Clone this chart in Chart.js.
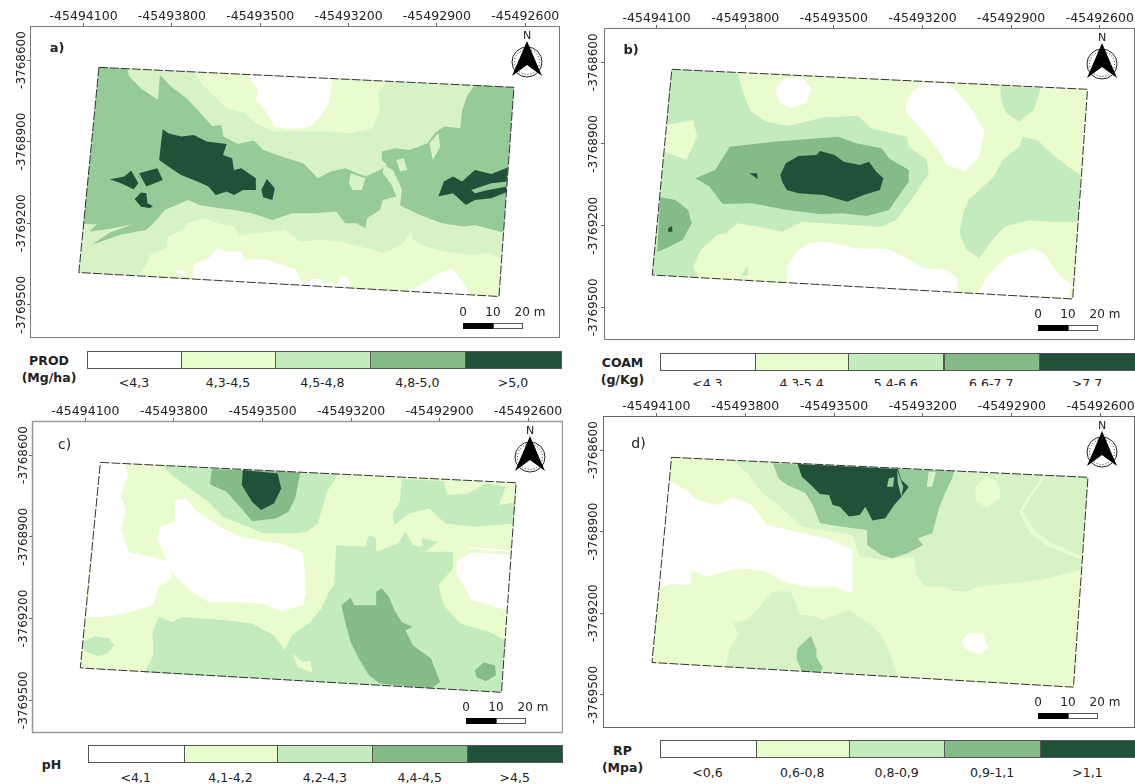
<!DOCTYPE html>
<html>
<head>
<meta charset="utf-8">
<title>Mapas PROD, COAM, pH, RP</title>
<script src="https://cdn.jsdelivr.net/npm/chart.js@4"></script>
<style>
  html, body { margin: 0; padding: 0; background: #fff; }
  #sheet { position: relative; width: 1135px; height: 784px; overflow: hidden; font-family: "DejaVu Sans", sans-serif; color: #222; }
  canvas { position: absolute; }
  .swatch { position: absolute; box-sizing: border-box; border: 1px solid #555; }
  .clabel { position: absolute; width: 100px; margin-left: -50px; text-align: center; font-size: 12.5px; line-height: 14px; }
  .ltitle { position: absolute; width: 80px; margin-left: -40px; text-align: center; font-size: 12.5px; font-weight: bold; line-height: 17px; }
  .clip { position: absolute; overflow: hidden; left: 0; right: 0; }
</style>
</head>
<body>
<div id="sheet"></div>
<script>
const xTicks = [-45494100, -45493800, -45493500, -45493200, -45492900, -45492600]
const yTicks = [-3768600, -3768900, -3769200, -3769500]

// legend classes
const prodClasses = ['<4,3', '4,3-4,5', '4,5-4,8', '4,8-5,0', '>5,0']
const coamClasses = ['<4,3', '4,3-5,4', '5,4-6,6', '6,6-7,7', '>7,7']
const phClasses = ['<4,1', '4,1-4,2', '4,2-4,3', '4,4-4,5', '>4,5']
const rpClasses = ['<0,6', '0,6-0,8', '0,8-0,9', '0,9-1,1', '>1,1']

// zones digitised from each sheet as [east, south] readings, georeferenced in toMap()
// a) PROD
const aParcel = [[270,202],[1407,262],[1366,890],[215,818]]
const aPale = [
  [[530,218],[555,255],[620,325],[665,335],[700,370],[750,395],[830,395],[900,395],[960,400],[1020,385],[1040,330],[1035,280],[1060,246]],
  [[380,825],[400,795],[410,765],[455,745],[460,710],[500,690],[510,670],[560,655],[610,675],[640,680],[655,705],[700,700],[780,690],[820,725],[880,720],[930,725],[985,740],[1050,760],[1100,735],[1125,695],[1130,720],[1165,740],[1215,755],[1280,765],[1340,760],[1372,775],[1366,890]]
]
const aWhite = [
  [[680,224],[705,270],[700,300],[735,345],[750,380],[790,388],[850,380],[875,350],[900,310],[910,236]],
  [[525,837],[530,795],[570,775],[595,745],[620,755],[660,755],[670,780],[725,778],[770,795],[810,810],[830,856],[850,840],[870,835],[900,850],[925,855],[930,825],[955,835],[960,865]],
  [[1115,875],[1150,855],[1200,820],[1240,807],[1265,845],[1290,888]],
  [[480,815],[500,810],[510,832]]
]
const aClass4 = [[
  [270,202],[348,207],[352,228],[385,265],[432,300],[437,225],[470,262],[510,295],[545,335],[580,378],[605,375],[612,410],[650,432],[695,422],[720,450],[770,470],[830,490],[870,535],[905,515],[945,505],[1000,530],[1040,510],[1060,495],[1045,480],[1045,455],[1080,445],[1120,450],[1170,430],[1190,400],[1215,380],[1260,385],[1265,330],[1280,285],[1300,256],[1407,262],
  [1378,698],[1300,675],[1270,680],[1210,670],[1150,645],[1100,620],[1040,630],[1005,655],[1000,685],[975,670],[945,670],[920,635],[860,640],[800,640],[745,660],[690,640],[640,630],[600,625],[545,615],[515,600],[450,630],[420,670],[400,690],[330,705],[250,735],[300,698],[365,672],[295,688],[243,695],[265,673],[228,672]
]]
const aTongues = [
  [[1050,495],[1075,510],[1095,555],[1100,570],[1095,615],[1120,640],[1075,640],[1040,632],[1048,600],[1085,590],[1072,555],[1048,520]],
  [[960,520],[1000,535],[990,570],[965,570],[955,550]],
  [[1085,480],[1105,475],[1115,510],[1095,515]],
  [[1175,430],[1200,400],[1205,440],[1185,480]]
]
const aDark = [
  [[445,388],[460,400],[495,410],[530,405],[565,425],[620,432],[610,465],[635,475],[640,510],[660,505],[700,535],[700,570],[665,570],[640,585],[620,575],[590,585],[570,560],[540,545],[495,525],[460,500],[435,480],[440,430]],
  [[300,538],[340,530],[358,512],[378,550],[365,568],[330,550]],
  [[380,520],[430,505],[445,540],[400,560]],
  [[715,570],[730,537],[752,565],[745,600],[720,592]],
  [[368,598],[385,578],[400,580],[403,610],[418,618],[410,625],[385,620]],
  [[1200,590],[1215,545],[1240,530],[1265,545],[1300,510],[1345,522],[1390,503],[1385,578],[1345,595],[1300,600],[1275,615],[1240,580]]
]
const aSlit = [[[1290,570],[1345,550],[1388,545],[1387,560],[1330,572],[1300,580]]]

// b) COAM
const bParcel = [[280,208],[1429,268],[1388,897],[226,825]]
const bClass3 = [
  [[280,208],[462,218],[475,270],[495,330],[540,365],[600,378],[650,365],[700,352],[795,348],[830,385],[870,395],[930,410],[935,440],[985,480],[990,520],[960,570],[935,610],[900,660],[860,680],[780,675],[700,670],[640,665],[585,695],[520,680],[460,670],[430,700],[405,705],[360,750],[340,800],[350,832],[226,825]],
  [[1188,258],[1300,264],[1280,330],[1240,365],[1205,340],[1190,300]],
  [[1250,410],[1290,420],[1340,470],[1375,500],[1410,525],[1403,665],[1330,665],[1270,660],[1200,680],[1165,720],[1130,775],[1095,750],[1075,700],[1085,640],[1100,600],[1170,530],[1195,480],[1240,440]],
  [[470,830],[490,795],[490,825]]
]
const bPaleHole = [[[266,375],[340,360],[350,410],[320,480],[258,455]]]
const bWhite = [
  [[565,270],[590,235],[640,232],[665,265],[650,310],[610,325],[580,310]],
  [[925,320],[940,280],[975,250],[1040,250],[1075,280],[1110,330],[1145,395],[1130,470],[1090,515],[1040,495],[1010,440],[960,375],[930,340]],
  [[597,848],[600,795],[630,750],[660,730],[710,725],[790,745],[880,748],[930,775],[975,805],[1040,810],[1070,835],[1070,877]],
  [[1125,881],[1150,830],[1200,775],[1275,745],[1310,760],[1350,825],[1385,855],[1378,893]]
]
const bClass4 = [
  [[345,535],[400,510],[440,440],[560,425],[740,410],[790,430],[860,445],[880,475],[935,510],[935,545],[905,590],[880,630],[820,648],[750,640],[690,642],[600,630],[500,610],[420,612],[385,560]],
  [[248,592],[290,600],[325,630],[335,670],[310,720],[265,745],[240,755]]
]
const bDark = [
  [[580,525],[595,490],[630,468],[680,465],[690,453],[730,465],[755,485],[800,495],[825,485],[845,515],[865,535],[855,570],[810,585],[765,605],[700,585],[630,580],[598,570],[585,545]],
  [[495,520],[515,520],[518,538]],
  [[270,685],[280,678],[282,695],[270,695]]
]

// c) pH
const cParcel = [[275,202],[1413,263],[1373,891],[220,818]]
const cWhite = [
  [[275,202],[345,207],[350,240],[332,300],[345,350],[332,400],[352,470],[470,500],[470,550],[435,575],[420,630],[340,655],[270,667],[238,665]],
  [[478,315],[510,310],[535,345],[570,370],[610,400],[660,425],[720,438],[770,445],[830,475],[838,590],[830,630],[770,648],[720,625],[620,620],[570,620],[520,585],[505,570],[470,530],[450,480],[430,430],[440,395],[480,380]],
  [[1250,500],[1290,472],[1398,478],[1388,645],[1330,625],[1290,615],[1270,570],[1250,540]],
  [[1270,455],[1400,465],[1398,470],[1300,462]]
]
const cClass3 = [
  [[445,211],[470,240],[520,280],[570,320],[610,365],[680,395],[720,415],[800,415],[840,410],[870,385],[885,330],[895,290],[925,237]],
  [[1100,252],[1215,258],[1225,300],[1280,295],[1330,265],[1385,275],[1365,330],[1410,322],[1405,385],[1300,395],[1220,385],[1175,340],[1120,355],[1080,390],[1075,355],[1095,320]],
  [[920,450],[1000,455],[1010,420],[1030,430],[1030,470],[1090,445],[1110,410],[1130,450],[1155,455],[1155,430],[1200,440],[1165,470],[1240,470],[1240,520],[1200,570],[1215,630],[1260,685],[1340,710],[1382,735],[1373,891],[395,832],[420,780],[418,710],[435,665],[470,680],[500,665],[620,675],[690,685],[750,720],[780,765],[800,720],[850,680],[880,640],[900,590],[915,570]],
  [[228,740],[260,722],[300,730],[312,750],[295,775],[265,782],[228,765]]
]
const cPaleHole = [[[800,775],[815,815],[855,832],[850,795],[830,800]]]
const cClass4 = [
  [[580,222],[822,232],[808,310],[790,350],[755,370],[690,378],[665,345],[620,290],[575,268]],
  [[935,630],[960,608],[970,630],[1030,630],[1030,590],[1045,580],[1065,605],[1080,645],[1100,680],[1130,695],[1110,705],[1130,750],[1180,790],[1205,860],[1180,880],[1040,865],[1010,840],[985,795],[960,740],[945,680]],
  [[1300,825],[1325,802],[1355,810],[1358,840],[1330,858],[1305,845]]
]
const cDark = [[[665,225],[760,235],[770,280],[750,325],[715,345],[690,320],[662,270]]]

// d) RP
const dParcel = [[280,202],[1430,262],[1390,892],[226,818]]
const dWhite = [
  [[274,272],[320,300],[350,330],[410,345],[450,322],[500,345],[545,405],[640,430],[710,445],[780,480],[780,605],[760,605],[735,590],[640,590],[590,575],[540,545],[470,535],[430,545],[380,560],[335,542],[330,585],[280,582],[248,592],[246,595]],
  [[1080,755],[1100,730],[1140,730],[1155,775],[1130,795],[1090,775]]
]
const dClass3 = [
  [[450,212],[490,250],[530,310],[570,340],[640,410],[690,420],[780,435],[800,500],[860,510],[950,500],[955,555],[980,590],[1030,590],[1060,603],[1100,603],[1125,590],[1300,570],[1410,540],[1413,510],[1320,470],[1270,430],[1240,365],[1255,335],[1305,256]],
  [[1315,256],[1430,262],[1415,500],[1330,460],[1280,420],[1250,365],[1265,335]],
  [[430,831],[440,775],[465,735],[450,700],[490,690],[520,655],[560,605],[610,605],[635,675],[660,675],[700,690],[770,660],[825,700],[860,735],[885,795],[905,861]]
]
const dPaleHole = [[[1120,290],[1150,258],[1180,275],[1190,320],[1150,355],[1120,330]]]
const dClass4 = [
  [[560,220],[1060,244],[1055,265],[1035,310],[1020,350],[1000,430],[960,445],[975,465],[930,490],[890,505],[860,495],[820,465],[820,420],[780,415],[720,405],[690,400],[670,345],[650,310],[600,285],[575,265]],
  [[628,775],[665,737],[680,780],[680,800],[698,835],[690,847],[640,845],[625,805]]
]
const dTongue = [[[990,245],[1010,246],[1000,290],[985,290]]]
const dDark = [[[628,222],[905,237],[915,270],[935,290],[915,320],[895,345],[870,385],[835,392],[815,350],[800,375],[770,380],[745,350],[725,345],[715,315],[690,312],[660,280],[640,260]]]
const dSlit = [
  [[903,240],[920,290],[915,320],[905,280]],
  [[880,265],[895,262],[892,290],[875,290]]
]

const WHITE = '#ffffff'
const PALE = '#e9fccd'
const LIGHT = '#c3ebbd'
const LIGHT_SOFT = '#d7f3c6'
const MID = '#84bb89'
const MID_SOFT = '#97ca99'
const DARK = '#215239'
const legendColors = [WHITE, PALE, LIGHT, MID, DARK]

const panels = [
  {
    tag: 'a)', tagFont: 'bold 13px "DejaVu Sans"', tagX: 57, tagY: 49,
    left: 0, top: 0, width: 560, height: 339, axisW: 30, axisH: 26, yPad: -24,
    east0: 228, eastStep: 242, south0: 180, frame: ['#777', 1],
    xMin: -45494282, xMax: -45492482, yMin: -3769622, yMax: -3768475,
    parcel: aParcel,
    layers: [[LIGHT_SOFT, [aParcel]], [PALE, aPale], [WHITE, aWhite], [MID_SOFT, aClass4], [LIGHT_SOFT, aTongues], [DARK, aDark], [MID_SOFT, aSlit]],
    classes: prodClasses, title: ['PROD', '(Mg/ha)'], titleX: 49, titleY: 352,
    bar: [87, 181, 275, 369.7, 465, 561], barY: 351, barH: 18, labelY: 382.5, clipY: 400
  },
  {
    tag: 'b)', tagFont: 'bold 13px "DejaVu Sans"', tagX: 631, tagY: 51,
    left: 570, top: 2, width: 565, height: 339, axisW: 34, axisH: 26, yPad: -22,
    east0: 238, eastStep: 245, south0: 187, frame: ['#777', 1],
    xMin: -45494278, xMax: -45492481, yMin: -3769620, yMax: -3768474,
    parcel: bParcel,
    layers: [[PALE, [bParcel]], [LIGHT, bClass3], [PALE, bPaleHole], [WHITE, bWhite], [MID, bClass4], [DARK, bDark]],
    classes: coamClasses, title: ['COAM', '(g/Kg)'], titleX: 622.5, titleY: 354,
    bar: [659.9, 754.8, 848.3, 943.5, 1039, 1135], barY: 352.7, barH: 18, labelY: 383.7, clipY: 386.5
  },
  {
    tag: 'c)', tagFont: '14px "DejaVu Sans"', tagX: 64.6, tagY: 445,
    left: 0, top: 395, width: 563, height: 339, axisW: 32, axisH: 26, yPad: -24,
    east0: 234, eastStep: 242.4, south0: 180, frame: ['#999', 1.5],
    xMin: -45494281, xMax: -45492482, yMin: -3769620, yMax: -3768475,
    parcel: cParcel,
    layers: [[PALE, [cParcel]], [WHITE, cWhite], [LIGHT, cClass3], [PALE, cPaleHole], [MID, cClass4], [DARK, cDark]],
    classes: phClasses, title: ['pH'], titleX: 51.5, titleY: 755.5,
    bar: [88, 183.6, 277.4, 372.3, 467.2, 562.4], barY: 745.3, barH: 18, labelY: 777.7, clipY: 784
  },
  {
    tag: 'd)', tagFont: '14px "DejaVu Sans"', tagX: 638.5, tagY: 444,
    left: 570, top: 390, width: 565, height: 339, axisW: 33, axisH: 26, yPad: -23,
    east0: 238, eastStep: 245.4, south0: 180, frame: ['#666', 1],
    xMin: -45494280, xMax: -45492484, yMin: -3769622, yMax: -3768475,
    parcel: dParcel,
    layers: [[PALE, [dParcel]], [WHITE, dWhite], [LIGHT_SOFT, dClass3], [PALE, dPaleHole], [MID_SOFT, dClass4], [LIGHT_SOFT, dTongue], [DARK, dDark], [MID_SOFT, dSlit]],
    classes: rpClasses, title: ['RP', '(Mpa)'], titleX: 622.5, titleY: 742,
    bar: [659.5, 755.5, 849, 944.3, 1040, 1135], barY: 740.3, barH: 18, labelY: 773, clipY: 784
  }
]

const sheet = document.getElementById('sheet')

function toMap (p, pair) {
  return {
    x: xTicks[0] + (pair[0] - p.east0) * 300 / p.eastStep,
    y: yTicks[0] - (pair[1] - p.south0) * 300 / 245
  }
}

// frame, panel tag, north arrow and scale bar
const mapFurniture = {
  id: 'mapFurniture',
  afterDraw (chart, args, opts) {
    const p = opts.panel
    const { ctx, chartArea: area } = chart
    ctx.save()
    ctx.strokeStyle = p.frame[0]
    ctx.lineWidth = p.frame[1]
    ctx.strokeRect(area.left + 0.5, area.top + 0.5, area.right - area.left - 1, area.bottom - area.top - 1)

    ctx.fillStyle = '#222'
    ctx.font = p.tagFont
    ctx.textAlign = 'center'
    ctx.textBaseline = 'middle'
    ctx.fillText(p.tag, p.tagX - p.left, p.tagY - p.top)

    // north arrow
    const cx = area.right - 33
    const cy = area.top + 36
    ctx.strokeStyle = '#222'
    ctx.lineWidth = 1
    ctx.beginPath()
    ctx.arc(cx, cy, 15, 0, Math.PI * 2)
    ctx.stroke()
    ctx.setLineDash([1, 2])
    ctx.beginPath()
    ctx.arc(cx, cy, 12.5, 0, Math.PI * 2)
    ctx.stroke()
    ctx.setLineDash([])
    ctx.fillStyle = '#000'
    ctx.beginPath()
    ctx.moveTo(cx, cy - 21)
    ctx.lineTo(cx + 15, cy + 14)
    ctx.lineTo(cx, cy + 3)
    ctx.lineTo(cx - 15, cy + 14)
    ctx.closePath()
    ctx.fill()
    ctx.font = '11px "DejaVu Sans"'
    ctx.fillStyle = '#222'
    ctx.fillText('N', cx, cy - 26)

    // scale bar
    const barLeft = area.right - 97
    const barTop = area.bottom - 15
    ctx.fillStyle = '#000'
    ctx.fillRect(barLeft, barTop, 30, 6)
    ctx.fillStyle = '#fff'
    ctx.fillRect(barLeft + 30, barTop, 30, 6)
    ctx.strokeStyle = '#555'
    ctx.strokeRect(barLeft + 30.5, barTop + 0.5, 29, 5)
    ctx.fillStyle = '#222'
    ctx.font = '12px "DejaVu Sans"'
    ctx.fillText('0', barLeft, barTop - 10)
    ctx.fillText('10', barLeft + 30, barTop - 10)
    ctx.fillText('20 m', barLeft + 67, barTop - 10)
    ctx.restore()
  }
}

function datasetsFor (p) {
  const sets = []
  p.layers.forEach(([color, polys]) => {
    polys.forEach(poly => {
      sets.push({
        data: poly.map(pair => toMap(p, pair)),
        showLine: true,
        fill: 'shape',
        backgroundColor: color,
        borderColor: 'transparent',
        borderWidth: 0,
        pointRadius: 0,
        tension: 0
      })
    })
  })
  // parcel outline goes on top
  sets.push({
    data: p.parcel.concat([p.parcel[0]]).map(pair => toMap(p, pair)),
    showLine: true,
    fill: false,
    borderColor: '#333',
    borderWidth: 1,
    borderDash: [9, 2],
    pointRadius: 0,
    tension: 0
  })
  // chart.js paints the first dataset last
  return sets.reverse()
}

panels.forEach(p => {
  const canvas = document.createElement('canvas')
  canvas.width = p.width
  canvas.height = p.height
  canvas.style.left = p.left + 'px'
  canvas.style.top = p.top + 'px'
  sheet.appendChild(canvas)

  new Chart(canvas, {
    type: 'scatter',
    data: { datasets: datasetsFor(p) },
    options: {
      responsive: false,
      animation: false,
      layout: { autoPadding: false, padding: { bottom: 1 } },
      plugins: {
        legend: { display: false },
        tooltip: { enabled: false },
        mapFurniture: { panel: p }
      },
      scales: {
        x: {
          type: 'linear',
          position: 'top',
          min: p.xMin,
          max: p.xMax,
          afterBuildTicks: axis => { axis.ticks = xTicks.map(value => ({ value })) },
          afterFit: scale => { scale.height = p.axisH },
          border: { display: false },
          grid: { drawOnChartArea: false, tickLength: 3, color: '#666' },
          ticks: {
            autoSkip: false,
            maxRotation: 0,
            padding: -1,
            color: '#222',
            font: { family: '"DejaVu Sans"', size: 12.5 },
            callback: v => String(v)
          }
        },
        y: {
          type: 'linear',
          min: p.yMin,
          max: p.yMax,
          afterBuildTicks: axis => { axis.ticks = yTicks.map(value => ({ value })) },
          afterFit: scale => { scale.width = p.axisW },
          border: { display: false },
          grid: { drawOnChartArea: false, tickLength: 3, color: '#666' },
          ticks: {
            autoSkip: false,
            minRotation: 90,
            maxRotation: 90,
            crossAlign: 'center',
            padding: p.yPad,
            color: '#222',
            font: { family: '"DejaVu Sans"', size: 12 },
            callback: v => String(v)
          }
        }
      }
    },
    plugins: [mapFurniture]
  })

  // class legend under the map
  p.classes.forEach((name, i) => {
    const sw = document.createElement('div')
    sw.className = 'swatch'
    sw.style.cssText = `left:${p.bar[i]}px;top:${p.barY}px;width:${p.bar[i + 1] - p.bar[i] + 1}px;height:${p.barH}px;background:${legendColors[i]}`
    sheet.appendChild(sw)
  })
  const clip = document.createElement('div')
  clip.className = 'clip'
  clip.style.top = (p.barY + p.barH) + 'px'
  clip.style.height = (p.clipY - p.barY - p.barH) + 'px'
  p.classes.forEach((name, i) => {
    const lab = document.createElement('div')
    lab.className = 'clabel'
    lab.textContent = name
    lab.style.left = ((p.bar[i] + p.bar[i + 1]) / 2) + 'px'
    lab.style.top = (p.labelY - 7 - p.barY - p.barH) + 'px'
    clip.appendChild(lab)
  })
  sheet.appendChild(clip)

  const title = document.createElement('div')
  title.className = 'ltitle'
  title.style.left = p.titleX + 'px'
  title.style.top = p.titleY + 'px'
  title.innerHTML = p.title.join('<br>')
  sheet.appendChild(title)
})
</script>
</body>
</html>
